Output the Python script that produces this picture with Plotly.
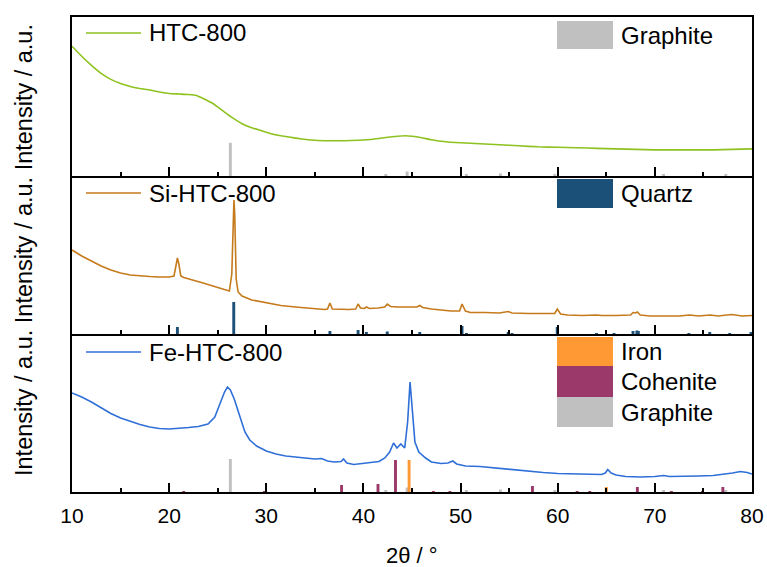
import plotly.graph_objects as go
from plotly.subplots import make_subplots

# ---------------- data ----------------
htc_x = [10.0, 11.0, 12.0, 13.0, 14.0, 15.0, 16.0, 17.0, 18.0, 19.0, 20.0, 21.0, 22.0, 22.8, 23.5,
         24.5, 25.5, 26.5, 27.5, 28.5, 29.5, 30.5, 31.5, 32.5, 33.5, 35.0, 36.5, 38.0, 39.5, 41.0,
         42.5, 43.5, 44.3, 45.0, 46.0, 47.0, 48.5, 50.0, 52.0, 54.0, 56.0, 58.0, 60.0, 62.0, 64.0,
         66.0, 68.0, 70.0, 72.0, 74.0, 76.0, 78.0, 80.0]
htc_y = [129, 119, 110, 102, 96, 92, 89, 87, 85.5, 83.5, 82, 81.5, 81, 80, 77,
         72, 65, 58, 52, 48, 45, 42, 40, 38.5, 37, 35.5, 35, 35, 35.5, 36.5,
         38.5, 39.5, 40, 39.5, 38, 36, 34, 33, 32, 31, 30, 29, 28.5, 28, 27.5,
         27, 26.5, 26, 26, 26, 26, 26.5, 27]

si_x = [10.0, 11.0, 12.0, 13.0, 14.0, 15.0, 16.0, 17.0, 18.0, 19.0, 20.0, 20.5, 20.7, 20.85, 21.0,
        21.2, 21.5, 22.5, 23.5, 24.5, 25.5, 26.2, 26.45, 26.6, 26.67, 26.75, 26.9, 27.1, 27.5, 28.5,
        29.5, 30.5, 31.5, 33.0, 34.5, 36.0, 36.3, 36.55, 36.8, 37.5, 38.5, 39.2, 39.45, 39.7, 40.1,
        40.3, 40.6, 41.5, 42.2, 42.45, 42.8, 43.5, 44.5, 45.5, 45.8, 46.1, 47.0, 48.0, 49.0, 49.9,
        50.15, 50.5, 51.0, 52.5, 54.0, 54.9, 55.3, 57.0, 59.0, 59.7, 59.95, 60.3, 61.0, 62.5, 64.0,
        64.5, 66.0, 67.5, 67.75, 68.0, 68.2, 68.5, 69.5, 71.0, 72.5, 73.6, 74.5, 75.7, 76.5, 77.9,
        79.0, 80.0]
si_y = [84, 78, 73, 68, 64, 61, 59, 58, 57.5, 57, 57, 58, 68, 76, 70,
        58, 56.5, 54, 51, 48, 45, 43, 60, 125, 134, 120, 55, 42, 38, 34,
        32, 30, 28.5, 27, 25.5, 24.5, 25, 31, 25, 24.5, 24.5, 25, 30, 26, 25.5,
        27, 25.5, 26, 27, 30, 27.5, 27, 27, 27, 28.5, 26.5, 25, 24, 23, 23,
        30, 23, 21.5, 21.5, 21, 22.5, 21, 20.5, 20, 20.5, 25, 20, 19, 18.5, 19,
        18.5, 18.5, 19, 21.5, 21, 22, 19, 18, 18, 18, 19, 18, 19, 18, 19.5,
        18, 18.5]

fe_x = [10.0, 11.0, 12.0, 13.0, 14.0, 15.0, 16.0, 17.0, 18.0, 19.0, 20.0, 21.0, 22.0, 23.0, 24.0,
        24.7, 25.2, 25.7, 26.0, 26.3, 26.7, 27.0, 27.4, 27.8, 28.3, 29.0, 30.0, 31.0, 32.0, 33.0,
        34.0, 35.0, 35.7, 36.3, 37.0, 37.7, 37.95, 38.3, 39.0, 40.0, 41.0, 41.6, 42.2, 42.7, 43.1,
        43.45, 43.85, 44.25, 44.55, 44.8, 45.05, 45.3, 45.7, 46.0, 46.4, 47.0, 48.0, 48.7, 49.2, 49.6,
        50.5, 52.0, 53.0, 54.0, 55.5, 57.0, 58.5, 60.0, 61.5, 63.0, 64.5, 64.9, 65.15, 65.5, 66.0,
        67.0, 68.5, 70.0, 70.9, 71.5, 73.0, 74.5, 76.0, 77.0, 78.0, 78.8, 79.5, 80.0]
fe_y = [99, 95, 90, 84, 78.5, 74, 70.5, 67.5, 65, 63.5, 63, 63.5, 64.5, 65.5, 68,
        75, 88, 100, 105, 102, 93, 84, 70, 60, 52, 46, 41, 38, 36, 35,
        34, 33, 33.5, 31, 30, 30.5, 33, 29, 27.5, 28.5, 29.5, 30.5, 34, 40, 49,
        44, 48, 44, 70, 110, 80, 50, 40, 37.5, 34, 30, 28.5, 29, 31, 28,
        26, 25.5, 24.5, 23.5, 22, 20.5, 19.5, 18.5, 18, 17.5, 17.5, 19, 22.5, 19, 17,
        15.5, 15, 15.5, 16.5, 15.5, 15.5, 16, 16.5, 17.5, 19, 20.5, 19.5, 18]

graphite_pos = [26.3, 42.3, 44.5, 50.6, 54.1, 59.7, 70.9, 77.3]
graphite_h = [33, 2, 4.5, 2, 2.5, 1.5, 1.5, 2]

quartz_pos = [20.85, 26.65, 36.55, 39.45, 40.3, 42.45, 45.8, 50.15, 50.6, 54.9, 55.3, 59.95,
              64.0, 65.8, 67.75, 68.15, 68.3, 73.5, 75.65, 77.7, 79.9]
quartz_h = [7, 32, 3, 4, 2, 2.5, 1.5, 8, 1, 2, 1, 7, 1, 1, 3, 3.5, 3, 1, 1.5, 1, 1.5]

iron_pos = [44.7, 65.0]
iron_h = [32, 5]

cohenite_pos = [21.5, 29.8, 37.75, 41.5, 43.3, 47.2, 48.9, 57.4, 62.0, 63.3, 68.2, 71.7, 74.9, 77.0]
cohenite_h = [1, 1, 7, 8, 32, 1, 1, 6, 1, 1, 5, 1, 1, 5]

series_names = ["HTC-800", "Si-HTC-800", "Fe-HTC-800"]
x_ticks = [10, 20, 30, 40, 50, 60, 70, 80]
x_title = "2θ / °"
y_title = "Intensity / a.u."

# ---------------- styles ----------------
C_HTC = "#8DC21F"
C_SI = "#C57A1C"
C_FE = "#2F6FD8"
C_QUARTZ = "#1B5079"
C_IRON = "#FF9933"
C_COH = "#9B3A6A"
C_GRAPH = "#C0C0C0"
FONT = "Liberation Sans, Arial, sans-serif"

W, H = 767, 567
ML, MR, MT, MB = 72, 15, 17, 75
PW, PH = W - ML - MR, H - MT - MB


def px_x(p):
    return (p - ML) / PW


def px_y(p):
    return (H - MB - p) / PH


fig = make_subplots(rows=3, cols=1, shared_xaxes=True, vertical_spacing=0,
                    row_heights=[159, 158, 158])

BARW = 0.3

# top panel
fig.add_trace(go.Bar(x=graphite_pos, y=graphite_h, width=BARW,
                     marker=dict(color=C_GRAPH, line=dict(width=0)), showlegend=False), 1, 1)
fig.add_trace(go.Scatter(x=htc_x, y=htc_y, mode="lines",
                         line=dict(color=C_HTC, width=1.6, shape="spline", smoothing=0.4),
                         showlegend=False), 1, 1)
# middle panel
fig.add_trace(go.Bar(x=quartz_pos, y=quartz_h, width=BARW,
                     marker=dict(color=C_QUARTZ, line=dict(width=0)), showlegend=False), 2, 1)
fig.add_trace(go.Scatter(x=si_x, y=si_y, mode="lines", line=dict(color=C_SI, width=1.6),
                         showlegend=False), 2, 1)
# bottom panel
fig.add_trace(go.Bar(x=graphite_pos, y=graphite_h, width=BARW,
                     marker=dict(color=C_GRAPH, line=dict(width=0)), showlegend=False), 3, 1)
fig.add_trace(go.Bar(x=cohenite_pos, y=cohenite_h, width=BARW,
                     marker=dict(color=C_COH, line=dict(width=0)), showlegend=False), 3, 1)
fig.add_trace(go.Bar(x=iron_pos, y=iron_h, width=BARW,
                     marker=dict(color=C_IRON, line=dict(width=0)), showlegend=False), 3, 1)
fig.add_trace(go.Scatter(x=fe_x, y=fe_y, mode="lines", line=dict(color=C_FE, width=1.6),
                         showlegend=False), 3, 1)

fig.update_xaxes(range=[10, 80], showline=True, mirror=True, linecolor="black", linewidth=1.5,
                 ticks="inside", ticklen=9, tickwidth=1.5, tickcolor="black",
                 tickvals=x_ticks, automargin=False,
                 minor=dict(ticks="inside", ticklen=4, tickwidth=1.5, tickcolor="black", dtick=5, tick0=10),
                 showgrid=False, zeroline=False, ticklabelstandoff=4,
                 tickfont=dict(family=FONT, size=21, color="black"))
# lower panels: the panel above draws the shared border
fig.update_xaxes(mirror=False, row=2, col=1)
fig.update_xaxes(mirror=False, row=3, col=1)
fig.update_yaxes(range=[0, 158], showline=True, mirror=True, linecolor="black", linewidth=1.5,
                 ticks="", showticklabels=False, showgrid=False, zeroline=False, automargin=False)

shapes = []
annotations = []

# series legends (line sample + text)
for name, color, yc in [(series_names[0], C_HTC, 33), (series_names[1], C_SI, 193), (series_names[2], C_FE, 352)]:
    shapes.append(dict(type="line", xref="paper", yref="paper", x0=px_x(86), x1=px_x(141),
                       y0=px_y(yc), y1=px_y(yc), line=dict(color=color, width=1.6)))
    annotations.append(dict(text=name, xref="paper", yref="paper", x=px_x(147), y=px_y(yc),
                            xanchor="left", yanchor="middle", showarrow=False,
                            font=dict(family=FONT, size=24, color="black")))

# reference legends (box + text)
for name, color, y0, y1 in [("Graphite", C_GRAPH, 21, 49), ("Quartz", C_QUARTZ, 179, 208),
                            ("Iron", C_IRON, 337, 366), ("Cohenite", C_COH, 366, 397),
                            ("Graphite", C_GRAPH, 397, 427)]:
    shapes.append(dict(type="rect", xref="paper", yref="paper", x0=px_x(557), x1=px_x(613),
                       y0=px_y(y1), y1=px_y(y0), fillcolor=color, line=dict(width=0)))
    annotations.append(dict(text=name, xref="paper", yref="paper", x=px_x(619), y=px_y((y0 + y1) / 2),
                            xanchor="left", yanchor="middle", showarrow=False,
                            font=dict(family=FONT, size=24, color="black")))

# axis titles
annotations.append(dict(text=x_title, xref="paper", yref="paper", x=px_x(412), y=px_y(555),
                        xanchor="center", yanchor="middle", showarrow=False,
                        font=dict(family=FONT, size=22, color="black")))
annotations.append(dict(text=" ".join([y_title] * 3), xref="paper", yref="paper",
                        x=px_x(24), y=px_y(250), textangle=-90,
                        xanchor="center", yanchor="middle", showarrow=False,
                        font=dict(family=FONT, size=23.5, color="black")))

fig.update_layout(width=W, height=H, margin=dict(l=ML, r=MR, t=MT, b=MB, autoexpand=False),
                  paper_bgcolor="white", plot_bgcolor="white", barmode="overlay",
                  shapes=shapes, annotations=annotations, showlegend=False,
                  font=dict(family=FONT, color="black"))

fig.write_html("out.html", config={"displayModeBar": False},
               post_script="document.body.style.margin='0px';")
